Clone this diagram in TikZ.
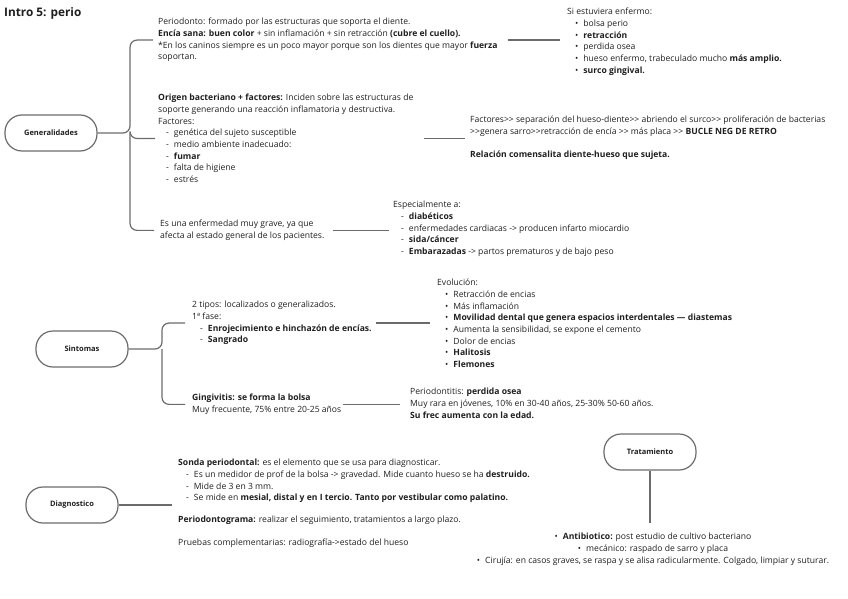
\documentclass[tikz,border=0pt]{standalone}
\usepackage{fontspec}
\setmainfont{Open Sans}
\usetikzlibrary{positioning,calc}
\colorlet{linkgray}{black!58}
\colorlet{textdark}{black!88}

\newcommand{\itm}[1]{\hspace*{8pt}-\hspace{5pt}#1}
\newcommand{\dotitm}[1]{\hspace*{8pt}•\hspace{5pt}#1}
\newcommand{\dbl}{>{}>}

\begin{document}
\begin{tikzpicture}[x=1pt, y=-1pt,
  topic/.style={draw=linkgray, line width=1.2pt, rounded corners=17pt, minimum width=92pt,
                minimum height=36pt, font=\fontsize{7.5}{9}\selectfont\bfseries, text=textdark},
  note/.style={anchor=north west, align=left, inner sep=0pt,
               font=\fontsize{8.6}{11.7}\selectfont, text=textdark},
  link/.style={draw=linkgray, line width=1.2pt, rounded corners=7pt}
]
\useasboundingbox (0,0) rectangle (848,599);

\node[anchor=west, inner sep=0pt, font=\fontsize{11.8}{14}\selectfont\bfseries, text=textdark] (title) at (4,13) {Intro 5: perio};

% Generalidades
\node[topic] (gen) at (51,133) {Generalidades};
\coordinate (genJ) at (130,133);

\node[note] (peri) at (158,18) {Periodonto: formado por las estructuras que soporta el diente.\\
{\bfseries Encía sana: buen color} + sin inflamación + sin retracción {\bfseries (cubre el cuello).}\\
*En los caninos siempre es un poco mayor porque son los dientes que mayor {\bfseries fuerza}\\
soportan.};
\node[note] (enf) at (567,8) {Si estuviera enfermo:\\
\dotitm{bolsa perio}\\
\dotitm{{\bfseries retracción}}\\
\dotitm{perdida osea}\\
\dotitm{hueso enfermo, trabeculado mucho {\bfseries más amplio.}}\\
\dotitm{{\bfseries surco gingival.}}};

\node[note] (orig) at (158,94) {{\bfseries Origen bacteriano + factores:} Inciden sobre las estructuras de\\
soporte generando una reacción inflamatoria y destructiva.\\
Factores:\\
\itm{genética del sujeto susceptible}\\
\itm{medio ambiente inadecuado:}\\
\itm{{\bfseries fumar}}\\
\itm{falta de higiene}\\
\itm{estrés}};
\node[note] (fact) at (470,116) {Factores\dbl{} separación del hueso-diente\dbl{} abriendo el surco\dbl{} proliferación de bacterias\\
\dbl genera sarro\dbl retracción de encía \dbl{} más placa \dbl{} {\bfseries BUCLE NEG DE RETRO}\\[11pt]
{\bfseries Relación comensalita diente-hueso que sujeta.}};

\node[note] (grave) at (160,220) {Es una enfermedad muy grave, ya que\\
afecta al estado general de los pacientes.};
\node[note] (esp) at (393,201) {Especialmente a:\\
\itm{{\bfseries diabéticos}}\\
\itm{enfermedades cardiacas -> producen infarto miocardio}\\
\itm{{\bfseries sida/cáncer}}\\
\itm{{\bfseries Embarazadas} -> partos prematuros y de bajo peso}};

\draw[link, shorten >=5pt] (gen.east) -- (genJ) |- (peri.west);
\draw[link, shorten >=3pt] (genJ) |- (orig.west);
\draw[link, shorten >=6pt] (genJ) |- (grave.west);
\draw[link, shorten <=10pt, shorten >=7pt] (peri.east) -- (peri.east -| enf.west);
\draw[link, shorten <=10pt, shorten >=5pt] (orig.east) -- (orig.east -| fact.west);
\draw[link, shorten <=8pt, shorten >=4pt] (grave.east) -- (grave.east -| esp.west);

% Sintomas
\node[topic] (sin) at (82,349) {Sintomas};
\coordinate (sinJ) at (162,349);

\node[note] (tipos) at (192,301) {2 tipos: localizados o generalizados.\\
1ª fase:\\
\itm{{\bfseries Enrojecimiento e hinchazón de encías.}}\\
\itm{{\bfseries Sangrado}}};
\node[note] (evol) at (437,279) {Evolución:\\
\dotitm{Retracción de encias}\\
\dotitm{Más inflamación}\\
\dotitm{{\bfseries Movilidad dental que genera espacios interdentales — diastemas}}\\
\dotitm{Aumenta la sensibilidad, se expone el cemento}\\
\dotitm{Dolor de encias}\\
\dotitm{{\bfseries Halitosis}}\\
\dotitm{{\bfseries Flemones}}};

\node[note] (ging) at (192,394) {{\bfseries Gingivitis: se forma la bolsa}\\
Muy frecuente, 75\% entre 20-25 años};
\node[note] (perio) at (410,388) {Periodontitis: {\bfseries perdida osea}\\
Muy rara en jóvenes, 10\% en 30-40 años, 25-30\% 50-60 años.\\
{\bfseries Su frec aumenta con la edad.}};

\draw[link, shorten >=7pt] (sin.east) -- (sinJ) |- (tipos.west);
\draw[link, shorten >=7pt] (sinJ) |- (ging.west);
\draw[link, shorten <=4pt, shorten >=7pt] (tipos.east) -- (tipos.east -| evol.west);
\draw[link, shorten <=2pt, shorten >=10pt] (ging.east) -- (ging.east -| perio.west);

% Diagnostico
\node[topic] (diag) at (72,505) {Diagnostico};
\node[note] (sonda) at (178,459) {{\bfseries Sonda periodontal:} es el elemento que se usa para diagnosticar.\\
\itm{Es un medidor de prof de la bolsa -> gravedad. Mide cuanto hueso se ha {\bfseries destruido.}}\\
\itm{Mide de 3 en 3 mm.}\\
\itm{Se mide en {\bfseries mesial, distal y en I tercio. Tanto por vestibular como palatino.}}\\[10pt]
{\bfseries Periodontograma:} realizar el seguimiento, tratamientos a largo plazo.\\[11pt]
Pruebas complementarias: radiografía->estado del hueso};
\draw[link, shorten >=6pt] (diag.east) -- (diag.east -| sonda.west);

% Tratamiento
\node[topic] (trat) at (650,452) {Tratamiento};
\node[note, anchor=north, align=center] (trtxt) at (653,533) {•\hspace{5pt}{\bfseries Antibiotico:} post estudio de cultivo bacteriano\\
•\hspace{5pt}mecánico: raspado de sarro y placa\\
•\hspace{5pt}Cirujía: en casos graves, se raspa y se alisa radicularmente. Colgado, limpiar y suturar.};
\draw[link, shorten >=10pt] (trat.south) -- (trat.south |- trtxt.north);
\end{tikzpicture}
\end{document}
